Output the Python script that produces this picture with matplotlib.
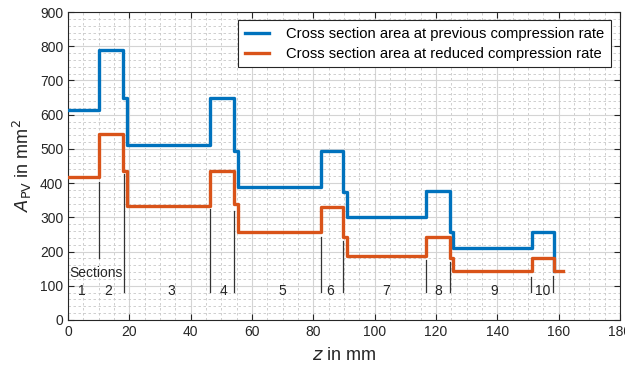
import matplotlib
matplotlib.use("Agg")
import matplotlib.pyplot as plt
from matplotlib.ticker import MultipleLocator

plt.rcParams['font.family'] = ['Liberation Sans', 'DejaVu Sans']

# step curves (z in mm, area in mm^2)
z_prev = [0, 10, 18, 19.1, 46.2, 54.2, 55.3, 82.5, 89.7, 90.8, 116.8, 124.4, 125.4, 151.2, 158.4]
a_prev = [615, 790, 650, 510, 650, 493, 390, 493, 375, 300, 376, 257, 209, 257, 143]

z_red = [0, 10, 18, 19.1, 46.2, 54.2, 55.3, 82.5, 89.7, 90.8, 116.8, 124.4, 125.4, 151.2, 158.4, 161.3]
a_red = [418, 545, 435, 333, 435, 338, 257, 331, 244, 188, 244, 182, 143, 182, 143, 143]

# section boundaries
sec_x = [10, 18.3, 46.2, 54.2, 82.5, 89.7, 116.7, 124.4, 151, 158.3]
sec_top = [402, 427, 325, 320, 242, 230, 174, 170, 126, 129]
sec_bot = [182, 82, 82, 82, 82, 82, 82, 82, 82, 82]

sec_labels = ["1", "2", "3", "4", "5", "6", "7", "8", "9", "10"]
sec_label_x = [4.6, 13, 33.7, 50.6, 70, 85.6, 103.7, 120.7, 138.9, 154.8]

fig = plt.figure(figsize=(6.25, 3.71), dpi=100)
ax = fig.add_axes([0.109, 0.1375, 0.883, 0.83])

ax.plot(z_prev, a_prev, drawstyle='steps-post', color='#0072BD', lw=2.4,
        label='Cross section area at previous compression rate', zorder=3)
ax.plot(z_red, a_red, drawstyle='steps-post', color='#D95319', lw=2.4,
        label='Cross section area at reduced compression rate', zorder=4)

for x, top, bot in zip(sec_x, sec_top, sec_bot):
    ax.plot([x, x], [bot, top], color='#333333', lw=0.9, zorder=2)

for x, s in zip(sec_label_x, sec_labels):
    ax.text(x, 85, s, ha='center', va='center', fontsize=10, color='#262626')
ax.text(9.2, 136, 'Sections', ha='center', va='center', fontsize=10, color='#262626')

ax.set_xlim(0, 180)
ax.set_ylim(0, 900)
ax.xaxis.set_major_locator(MultipleLocator(20))
ax.xaxis.set_minor_locator(MultipleLocator(5))
ax.yaxis.set_major_locator(MultipleLocator(100))
ax.yaxis.set_minor_locator(MultipleLocator(20))

ax.grid(which='major', color='#d4d4d4', lw=0.8, zorder=0)
ax.grid(which='minor', color='#c8c8c8', lw=0.6, ls=(0, (3, 3)), zorder=0)
ax.set_axisbelow(True)

ax.tick_params(which='both', direction='in', top=True, right=True,
               colors='#262626', labelsize=10)
ax.tick_params(which='major', length=4)
ax.tick_params(which='minor', length=0)
for sp in ax.spines.values():
    sp.set_color('#262626')
    sp.set_linewidth(0.8)

ax.set_xlabel('$z$ in mm', fontsize=13, color='#262626', labelpad=6)
ax.set_ylabel('$A_{\\mathrm{PV}}$ in mm$^2$', fontsize=13, color='#262626', labelpad=4)

leg = ax.legend(loc='upper right', bbox_to_anchor=(0.983, 0.974), fontsize=10.6,
                frameon=True, fancybox=False, edgecolor='#262626', framealpha=1,
                handlelength=1.65, handletextpad=1.15, borderpad=0.45,
                labelspacing=0.42, borderaxespad=0)
leg.get_frame().set_linewidth(0.8)

fig.savefig('out.png', dpi=100)
